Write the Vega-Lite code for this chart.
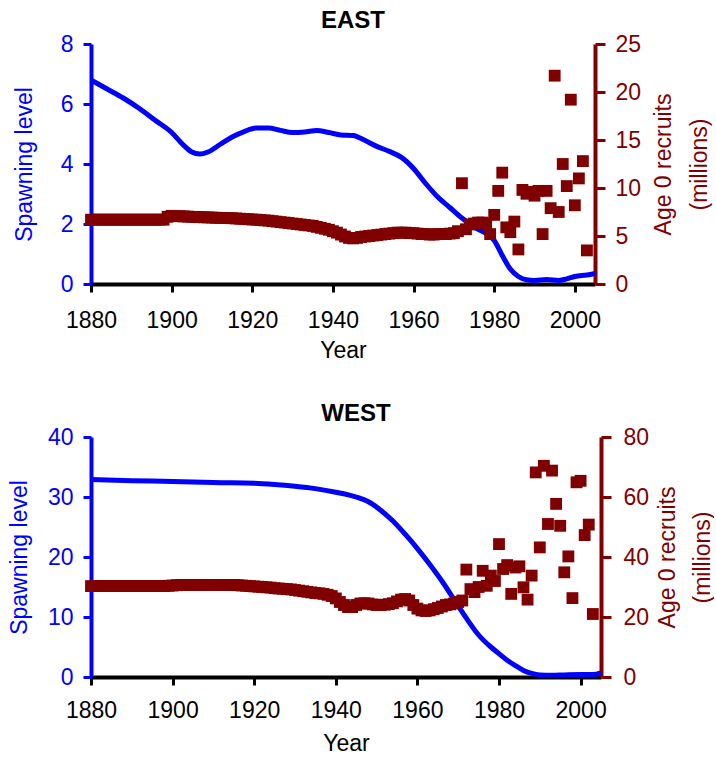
{
  "$schema": "https://vega.github.io/schema/vega-lite/v6.json",
  "padding": {"left": 7, "top": 9, "right": 0, "bottom": 2},
  "spacing": 40,
  "config": {
    "view": {"stroke": null},
    "font": "Liberation Sans",
    "axis": {"grid": false, "labelFontSize": 23, "titleFontSize": 23, "titleFontWeight": "normal", "labelFont": "Liberation Sans", "titleFont": "Liberation Sans", "labelFlush": false},
    "title": {"fontSize": 24, "fontWeight": "bold", "font": "Liberation Sans", "color": "#000000"}
  },
  "datasets": {
    "eastLine": [
      {"year":1880,"value":6.8},{"year":1884,"value":6.5},{"year":1888,"value":6.2},{"year":1892,"value":5.85},{"year":1896,"value":5.45},{"year":1900,"value":5.05},{"year":1903,"value":4.62},{"year":1905,"value":4.4},{"year":1907,"value":4.33},{"year":1909,"value":4.4},{"year":1912,"value":4.65},{"year":1915,"value":4.9},{"year":1918,"value":5.08},{"year":1921,"value":5.2},{"year":1924,"value":5.2},{"year":1927,"value":5.12},{"year":1930,"value":5.05},{"year":1933,"value":5.07},{"year":1936,"value":5.12},{"year":1939,"value":5.05},{"year":1942,"value":4.97},{"year":1945,"value":4.95},{"year":1948,"value":4.78},{"year":1951,"value":4.58},{"year":1954,"value":4.42},{"year":1957,"value":4.22},{"year":1960,"value":3.85},{"year":1963,"value":3.35},{"year":1966,"value":2.9},{"year":1969,"value":2.55},{"year":1972,"value":2.2},{"year":1975,"value":1.9},{"year":1978,"value":1.68},{"year":1980,"value":1.45},{"year":1982,"value":0.95},{"year":1984,"value":0.5},{"year":1986,"value":0.25},{"year":1988,"value":0.14},{"year":1990,"value":0.12},{"year":1993,"value":0.15},{"year":1996,"value":0.12},{"year":1998,"value":0.17},{"year":2000,"value":0.25},{"year":2003,"value":0.3},{"year":2005,"value":0.35}
    ],
    "eastRec": [
      {"year":1880,"value":6.7},{"year":1881,"value":6.7},{"year":1882,"value":6.7},{"year":1883,"value":6.7},{"year":1884,"value":6.7},{"year":1885,"value":6.7},{"year":1886,"value":6.7},{"year":1887,"value":6.7},{"year":1888,"value":6.7},{"year":1889,"value":6.7},{"year":1890,"value":6.7},{"year":1891,"value":6.7},{"year":1892,"value":6.7},{"year":1893,"value":6.7},{"year":1894,"value":6.7},{"year":1895,"value":6.7},{"year":1896,"value":6.7},{"year":1897,"value":6.7},{"year":1898,"value":6.7},
      {"year":1899,"value":7.0},{"year":1900,"value":7.1},{"year":1901,"value":7.08},{"year":1902,"value":7.06},{"year":1903,"value":7.04},{"year":1904,"value":7.02},{"year":1905,"value":7.0},{"year":1906,"value":6.98},{"year":1907,"value":6.96},{"year":1908,"value":6.95},{"year":1909,"value":6.94},{"year":1910,"value":6.92},{"year":1911,"value":6.9},{"year":1912,"value":6.89},{"year":1913,"value":6.88},{"year":1914,"value":6.87},{"year":1915,"value":6.85},{"year":1916,"value":6.83},{"year":1917,"value":6.8},{"year":1918,"value":6.78},{"year":1919,"value":6.75},
      {"year":1920,"value":6.72},{"year":1921,"value":6.7},{"year":1922,"value":6.67},{"year":1923,"value":6.63},{"year":1924,"value":6.6},{"year":1925,"value":6.55},{"year":1926,"value":6.5},{"year":1927,"value":6.45},{"year":1928,"value":6.4},{"year":1929,"value":6.35},{"year":1930,"value":6.3},{"year":1931,"value":6.25},{"year":1932,"value":6.2},{"year":1933,"value":6.15},{"year":1934,"value":6.1},{"year":1935,"value":6.05},{"year":1936,"value":5.95},{"year":1937,"value":5.85},{"year":1938,"value":5.75},{"year":1939,"value":5.65},
      {"year":1940,"value":5.5},{"year":1941,"value":5.35},{"year":1942,"value":5.15},{"year":1943,"value":4.95},{"year":1944,"value":4.8},{"year":1945,"value":4.75},{"year":1946,"value":4.8},{"year":1947,"value":4.9},{"year":1948,"value":4.95},{"year":1949,"value":5.0},{"year":1950,"value":5.05},{"year":1951,"value":5.1},{"year":1952,"value":5.15},{"year":1953,"value":5.2},{"year":1954,"value":5.25},{"year":1955,"value":5.3},{"year":1956,"value":5.35},{"year":1957,"value":5.35},{"year":1958,"value":5.35},{"year":1959,"value":5.3},
      {"year":1960,"value":5.3},{"year":1961,"value":5.25},{"year":1962,"value":5.2},{"year":1963,"value":5.2},{"year":1964,"value":5.15},{"year":1965,"value":5.15},{"year":1966,"value":5.2},{"year":1967,"value":5.2},{"year":1968,"value":5.2},{"year":1969,"value":5.25},{"year":1970,"value":5.3},{"year":1971,"value":5.5},{"year":1972,"value":10.5},{"year":1973,"value":5.7},{"year":1974,"value":6.2},{"year":1975,"value":6.3},{"year":1976,"value":6.4},{"year":1977,"value":6.4},{"year":1978,"value":6.3},{"year":1979,"value":5.2},
      {"year":1980,"value":7.2},{"year":1981,"value":9.7},{"year":1982,"value":11.6},{"year":1983,"value":5.9},{"year":1984,"value":5.4},{"year":1985,"value":6.5},{"year":1986,"value":3.6},{"year":1987,"value":9.8},{"year":1988,"value":9.4},{"year":1989,"value":9.6},{"year":1990,"value":9.2},{"year":1991,"value":9.7},{"year":1992,"value":5.2},{"year":1993,"value":9.7},{"year":1994,"value":7.9},{"year":1995,"value":21.7},{"year":1996,"value":7.5},{"year":1997,"value":12.5},{"year":1998,"value":10.2},{"year":1999,"value":19.2},
      {"year":2000,"value":8.2},{"year":2001,"value":11.0},{"year":2002,"value":12.8},{"year":2003,"value":3.5}
    ],
    "westLine": [
      {"year":1880,"value":32.9},{"year":1890,"value":32.7},{"year":1900,"value":32.6},{"year":1910,"value":32.4},{"year":1920,"value":32.3},{"year":1925,"value":32.1},{"year":1930,"value":31.8},{"year":1935,"value":31.4},{"year":1940,"value":30.8},{"year":1945,"value":30.0},{"year":1948,"value":29.2},{"year":1951,"value":27.8},{"year":1954,"value":26.0},{"year":1957,"value":23.8},{"year":1960,"value":21.4},{"year":1963,"value":18.8},{"year":1966,"value":16.0},{"year":1969,"value":12.9},{"year":1972,"value":9.8},{"year":1975,"value":7.0},{"year":1978,"value":5.0},{"year":1980,"value":3.9},{"year":1982,"value":2.8},{"year":1984,"value":1.9},{"year":1986,"value":1.1},{"year":1988,"value":0.6},{"year":1990,"value":0.35},{"year":1993,"value":0.3},{"year":1996,"value":0.35},{"year":2000,"value":0.4},{"year":2003,"value":0.4},{"year":2005,"value":0.7}
    ],
    "westRec": [
      {"year":1880,"value":30.3},{"year":1881,"value":30.3},{"year":1882,"value":30.3},{"year":1883,"value":30.3},{"year":1884,"value":30.3},{"year":1885,"value":30.3},{"year":1886,"value":30.3},{"year":1887,"value":30.3},{"year":1888,"value":30.3},{"year":1889,"value":30.3},{"year":1890,"value":30.3},{"year":1891,"value":30.3},{"year":1892,"value":30.3},{"year":1893,"value":30.3},{"year":1894,"value":30.3},{"year":1895,"value":30.3},{"year":1896,"value":30.3},{"year":1897,"value":30.3},{"year":1898,"value":30.3},{"year":1899,"value":30.4},
      {"year":1900,"value":30.5},{"year":1901,"value":30.6},{"year":1902,"value":30.7},{"year":1903,"value":30.7},{"year":1904,"value":30.7},{"year":1905,"value":30.7},{"year":1906,"value":30.7},{"year":1907,"value":30.7},{"year":1908,"value":30.7},{"year":1909,"value":30.7},{"year":1910,"value":30.7},{"year":1911,"value":30.7},{"year":1912,"value":30.7},{"year":1913,"value":30.7},{"year":1914,"value":30.7},{"year":1915,"value":30.7},{"year":1916,"value":30.6},{"year":1917,"value":30.5},{"year":1918,"value":30.4},{"year":1919,"value":30.3},
      {"year":1920,"value":30.2},{"year":1921,"value":30.1},{"year":1922,"value":30.0},{"year":1923,"value":29.9},{"year":1924,"value":29.8},{"year":1925,"value":29.6},{"year":1926,"value":29.5},{"year":1927,"value":29.4},{"year":1928,"value":29.3},{"year":1929,"value":29.2},{"year":1930,"value":29.0},{"year":1931,"value":28.8},{"year":1932,"value":28.6},{"year":1933,"value":28.4},{"year":1934,"value":28.2},{"year":1935,"value":28.0},{"year":1936,"value":27.9},{"year":1937,"value":27.7},{"year":1938,"value":27.4},{"year":1939,"value":27.0},
      {"year":1940,"value":26.2},{"year":1941,"value":25.0},{"year":1942,"value":24.0},{"year":1943,"value":23.3},{"year":1944,"value":23.3},{"year":1945,"value":24.0},{"year":1946,"value":24.5},{"year":1947,"value":24.6},{"year":1948,"value":24.5},{"year":1949,"value":24.2},{"year":1950,"value":24.0},{"year":1951,"value":24.0},{"year":1952,"value":24.1},{"year":1953,"value":24.3},{"year":1954,"value":24.6},{"year":1955,"value":25.2},{"year":1956,"value":25.8},{"year":1957,"value":26.0},{"year":1958,"value":25.5},{"year":1959,"value":24.0},
      {"year":1960,"value":22.8},{"year":1961,"value":22.2},{"year":1962,"value":22.0},{"year":1963,"value":22.2},{"year":1964,"value":22.6},{"year":1965,"value":23.0},{"year":1966,"value":23.5},{"year":1967,"value":24.0},{"year":1968,"value":24.2},{"year":1969,"value":24.5},{"year":1970,"value":25.0},{"year":1971,"value":25.5},{"year":1972,"value":35.8},{"year":1973,"value":29.3},{"year":1974,"value":28.3},{"year":1975,"value":30.0},{"year":1976,"value":35.4},{"year":1977,"value":30.4},{"year":1978,"value":33.8},{"year":1979,"value":32.0},
      {"year":1980,"value":44.3},{"year":1981,"value":36.0},{"year":1982,"value":37.3},{"year":1983,"value":27.7},{"year":1984,"value":36.5},{"year":1985,"value":36.9},{"year":1986,"value":29.9},{"year":1987,"value":25.8},{"year":1988,"value":33.8},{"year":1989,"value":68.2},{"year":1990,"value":43.2},{"year":1991,"value":70.4},{"year":1992,"value":51.0},{"year":1993,"value":68.8},{"year":1994,"value":57.7},{"year":1995,"value":50.4},{"year":1996,"value":34.9},{"year":1997,"value":40.2},{"year":1998,"value":26.3},{"year":1999,"value":64.9},
      {"year":2000,"value":65.4},{"year":2001,"value":47.3},{"year":2002,"value":50.8},{"year":2003,"value":21.0}
    ]
  },
  "vconcat": [
    {
      "title": {"text": "EAST", "frame": "group", "dx": 10, "offset": 0},
      "width": 504,
      "height": 240,
      "resolve": {"scale": {"y": "independent"}},
      "layer": [
        {
          "data": {"name": "eastLine"},
          "mark": {"type": "line", "color": "#0000FF", "strokeWidth": 5, "interpolate": "monotone"},
          "encoding": {
            "x": {"field": "year", "type": "quantitative", "scale": {"domain": [1880, 2005], "nice": false, "zero": false},
                  "axis": {"values": [1880, 1900, 1920, 1940, 1960, 1980, 2000], "format": "d", "title": "Year", "labelFontSize": 23, "titleFontSize": 23, "labelFlush": false, "domainColor": "#000000", "domainWidth": 4, "tickColor": "#000000", "tickWidth": 3, "tickSize": 8, "labelPadding": 17, "titlePadding": 7, "labelColor": "#000000", "titleColor": "#000000"}},
            "y": {"field": "value", "type": "quantitative", "scale": {"domain": [0, 8], "nice": false},
                  "axis": {"values": [0, 2, 4, 6, 8], "title": "Spawning level", "labelFontSize": 23, "titleFontSize": 23, "titleColor": "#0000FF", "labelColor": "#0000FF", "domainColor": "#0000FF", "tickColor": "#0000FF", "domainWidth": 4, "tickWidth": 3, "tickSize": 8, "labelPadding": 10, "titleX": -55, "titleBaseline": "bottom"}}
          }
        },
        {
          "data": {"name": "eastRec"},
          "mark": {"type": "square", "color": "#800000", "size": 140, "opacity": 1},
          "encoding": {
            "x": {"field": "year", "type": "quantitative", "scale": {"domain": [1880, 2005], "nice": false, "zero": false}},
            "y": {"field": "value", "type": "quantitative", "scale": {"domain": [0, 25], "nice": false},
                  "axis": {"orient": "right", "values": [0, 5, 10, 15, 20, 25], "title": ["Age 0 recruits", "(millions)"], "labelFontSize": 23, "titleFontSize": 23, "titleColor": "#800000", "labelColor": "#800000", "domainColor": "#800000", "tickColor": "#800000", "domainWidth": 4, "tickWidth": 3, "tickSize": 10, "labelPadding": 10, "titleAngle": 270, "titleX": 57, "titleBaseline": "top", "titleLineHeight": 36}}
          }
        }
      ]
    },
    {
      "title": {"text": "WEST", "frame": "group", "dx": 10, "offset": 0},
      "width": 510,
      "height": 240,
      "resolve": {"scale": {"y": "independent"}},
      "layer": [
        {
          "data": {"name": "westLine"},
          "mark": {"type": "line", "color": "#0000FF", "strokeWidth": 5, "interpolate": "monotone"},
          "encoding": {
            "x": {"field": "year", "type": "quantitative", "scale": {"domain": [1880, 2005], "nice": false, "zero": false},
                  "axis": {"values": [1880, 1900, 1920, 1940, 1960, 1980, 2000], "format": "d", "title": "Year", "labelFontSize": 23, "titleFontSize": 23, "labelFlush": false, "domainColor": "#000000", "domainWidth": 4, "tickColor": "#000000", "tickWidth": 3, "tickSize": 8, "labelPadding": 14, "titlePadding": 10, "labelColor": "#000000", "titleColor": "#000000"}},
            "y": {"field": "value", "type": "quantitative", "scale": {"domain": [0, 40], "nice": false},
                  "axis": {"values": [0, 10, 20, 30, 40], "title": "Spawning level", "labelFontSize": 23, "titleFontSize": 23, "titleColor": "#0000FF", "labelColor": "#0000FF", "domainColor": "#0000FF", "tickColor": "#0000FF", "domainWidth": 4, "tickWidth": 3, "tickSize": 8, "labelPadding": 10, "titleX": -60, "titleBaseline": "bottom"}}
          }
        },
        {
          "data": {"name": "westRec"},
          "mark": {"type": "square", "color": "#800000", "size": 140, "opacity": 1},
          "encoding": {
            "x": {"field": "year", "type": "quantitative", "scale": {"domain": [1880, 2005], "nice": false, "zero": false}},
            "y": {"field": "value", "type": "quantitative", "scale": {"domain": [0, 80], "nice": false},
                  "axis": {"orient": "right", "values": [0, 20, 40, 60, 80], "title": ["Age 0 recruits", "(millions)"], "labelFontSize": 23, "titleFontSize": 23, "titleColor": "#800000", "labelColor": "#800000", "domainColor": "#800000", "tickColor": "#800000", "domainWidth": 4, "tickWidth": 3, "tickSize": 10, "labelPadding": 12, "titleAngle": 270, "titleX": 55, "titleBaseline": "top", "titleLineHeight": 35}}
          }
        }
      ]
    }
  ]
}
